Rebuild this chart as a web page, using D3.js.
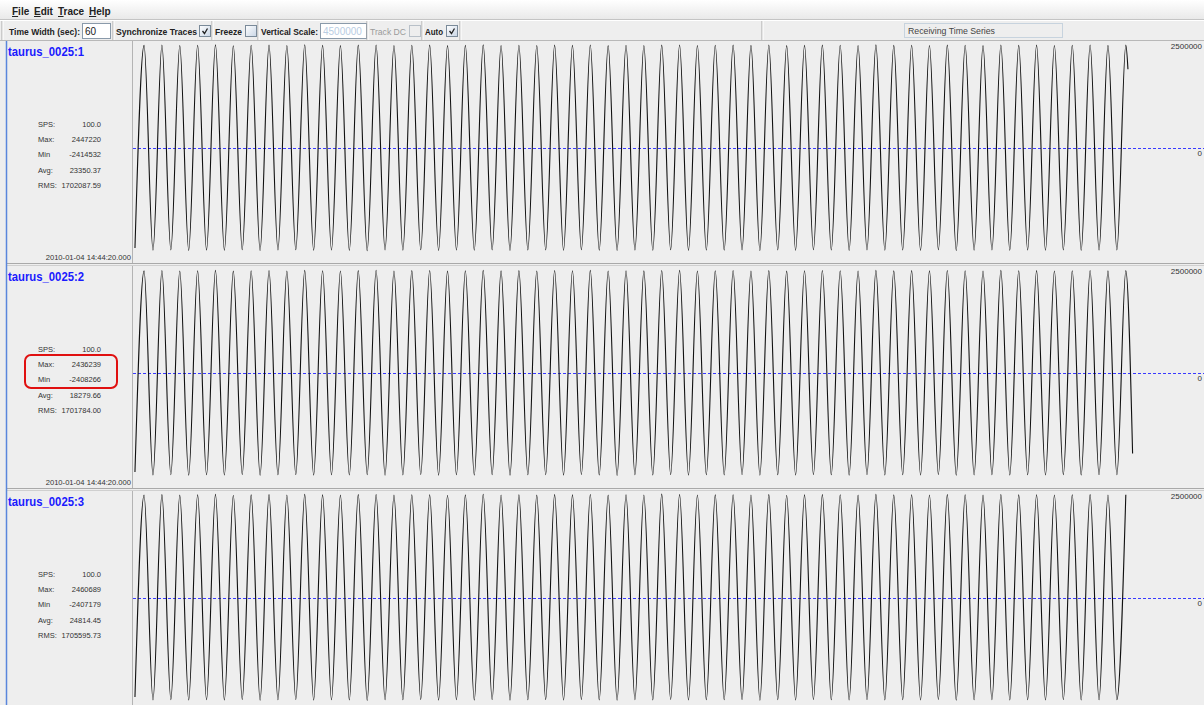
<!DOCTYPE html>
<html>
<head>
<meta charset="utf-8">
<script src="https://cdn.jsdelivr.net/npm/d3@7/dist/d3.min.js"></script>
<style>
  html, body { margin:0; padding:0; background:#eeeeee; overflow:hidden; }
  svg { display:block; font-family:"Liberation Sans", Arial, sans-serif; }
</style>
</head>
<body>
<svg id="c" width="1204" height="705"></svg>
<script>
// ---------------- DATA ----------------
const menuItems = ["File", "Edit", "Trace", "Help"];
const traceNames = ["taurus_0025:1", "taurus_0025:2", "taurus_0025:3"];
const spsVals = ["100.0", "100.0", "100.0"];
const maxVals = ["2447220", "2436239", "2460689"];
const minVals = ["-2414532", "-2408266", "-2407179"];
const avgVals = ["23350.37", "18279.66", "24814.45"];
const rmsVals = ["1702087.59", "1701784.00", "1705595.73"];
const startStamp = "2010-01-04 14:44:20.000";
const axisTopLabel = "2500000";
const axisZeroLabel = "0";
const timeWidthSec = 60;          // "Time Width (sec)"
const amplitudeDomain = [-2500, 2500]; // thousands of counts
const statusText = "Receiving Time Series";

// Waveform extrema (thousands of counts), 1 Hz signal
const peaks1 = [2431,2440,2428,2436,2443,2425,2434,2439,2430,2447.22,
                2433,2427,2438,2441,2429,2435,2437,2426,2432,2444,
                2430,2436,2428,2439,2433,2441,2427,2435,2430,2438,
                2442,2429,2434,2437,2431,2440,2426,2433,2439,2435,
                2428,2443,2432,2436,2430,2438,2434,2427,2441,2433,
                2437,2429,2435,2440,2431,2438];
const troughs1 = [-2402,-2396,-2408,-2399,-2405,-2391,-2410,-2400,-2394,-2406,
                  -2398,-2403,-2414.532,-2397,-2401,-2393,-2407,-2399,-2404,-2395,
                  -2409,-2400,-2396,-2405,-2392,-2402,-2408,-2398,-2403,-2394,
                  -2406,-2399,-2401,-2395,-2411,-2397,-2404,-2393,-2400,-2407,
                  -2396,-2403,-2398,-2405,-2392,-2409,-2401,-2397,-2404,-2399,
                  -2402,-2395,-2406,-2400,-2398];
const peaks2 = [2421,2429,2417,2425,2432,2414,2423,2428,2419,2433,
                2424,2416,2427,2436.239,2418,2426,2430,2415,2422,2431,
                2420,2427,2417,2429,2424,2432,2416,2425,2421,2428,
                2433,2419,2423,2430,2418,2426,2414,2422,2429,2425,
                2417,2431,2421,2427,2420,2428,2424,2416,2432,2423,
                2426,2418,2425,2430,2420,2427];
const troughs2 = [-2396,-2390,-2401,-2393,-2399,-2386,-2404,-2394,-2388,-2400,
                  -2392,-2397,-2389,-2403,-2395,-2387,-2401,-2393,-2398,-2390,
                  -2402,-2394,-2390,-2399,-2386,-2396,-2408.266,-2392,-2397,-2388,
                  -2400,-2393,-2395,-2389,-2404,-2391,-2398,-2387,-2394,-2401,
                  -2390,-2397,-2392,-2399,-2386,-2403,-2395,-2391,-2398,-2393,
                  -2396,-2389,-2400,-2394,-2392];
const peaks3 = [2442,2451,2438,2447,2455,2436,2445,2450,2440,2456,
                2444,2437,2449,2453,2439,2446,2448,2435,2443,2457,
                2441,2448,2438,2450,2445,2454,2437,2446,2442,2460.689,
                2452,2440,2445,2448,2442,2451,2436,2444,2450,2447,
                2439,2455,2443,2448,2441,2449,2446,2437,2453,2444,
                2448,2440,2446,2451,2442,2449];
const troughs3 = [-2395,-2389,-2400,-2392,-2398,-2385,-2403,-2393,-2387,-2399,
                  -2391,-2396,-2407.179,-2390,-2394,-2386,-2400,-2392,-2397,-2388,
                  -2401,-2393,-2389,-2398,-2385,-2395,-2402,-2391,-2396,-2387,
                  -2399,-2392,-2394,-2388,-2404,-2390,-2397,-2386,-2393,-2400,
                  -2389,-2396,-2391,-2398,-2385,-2402,-2394,-2390,-2397,-2392,
                  -2395,-2388,-2399,-2393,-2391];
const traceStart = [[0.11, -2350], [0.11, -2330], [0.11, -2330]]; // [sec, value]
const traceEnd = [[55.74, 1870], [56.0, -1890], null];
const firstPeakSec = 0.62;

// ---------------- DRAW ----------------
const svg = d3.select("#c");
const W = 1204, H = 705;

const defs = svg.append("defs");
const mg = defs.append("linearGradient").attr("id","menuG").attr("x1",0).attr("y1",0).attr("x2",0).attr("y2",1);
mg.append("stop").attr("offset","0%").attr("stop-color","#ffffff");
mg.append("stop").attr("offset","100%").attr("stop-color","#e9e9e9");
const cg = defs.append("linearGradient").attr("id","chkG").attr("x1",0).attr("y1",0).attr("x2",1).attr("y2",1);
cg.append("stop").attr("offset","0%").attr("stop-color","#ffffff");
cg.append("stop").attr("offset","100%").attr("stop-color","#c9d6e6");

svg.append("rect").attr("x",0).attr("y",0).attr("width",W).attr("height",H).attr("fill","#eeeeee");
svg.append("rect").attr("x",0).attr("y",0).attr("width",W).attr("height",19).attr("fill","url(#menuG)");

// menu bar with underlined mnemonics
const menuX = [12, 34, 58, 89];
menuItems.forEach((m, i) => {
  const t = svg.append("text").attr("x", menuX[i]).attr("y", 15)
    .attr("font-size", 10).attr("font-weight","bold").attr("fill","#222");
  t.append("tspan").attr("text-decoration","underline").text(m[0]);
  t.append("tspan").text(m.slice(1));
});

// toolbar
svg.append("line").attr("x1",0).attr("x2",W).attr("y1",19.5).attr("y2",19.5).attr("stroke","#c4c4c4");
svg.append("line").attr("x1",0).attr("x2",W).attr("y1",20.5).attr("y2",20.5).attr("stroke","#ffffff");
svg.append("line").attr("x1",0).attr("x2",W).attr("y1",40.5).attr("y2",40.5).attr("stroke","#b8b8b8");

function sep(x){
  svg.append("line").attr("x1",x).attr("x2",x).attr("y1",21).attr("y2",40).attr("stroke","#a8a8a8");
  svg.append("line").attr("x1",x+1).attr("x2",x+1).attr("y1",21).attr("y2",40).attr("stroke","#ffffff");
}
function label(x, txt, w, opts={}){
  svg.append("text").attr("x",x).attr("y",34.5).attr("font-size",opts.size||8.7)
    .attr("font-weight", opts.bold===false ? "normal" : "bold")
    .attr("fill", opts.color || "#222")
    .attr("textLength", w).attr("lengthAdjust","spacingAndGlyphs").text(txt);
}
function checkbox(x, checked, disabled){
  svg.append("rect").attr("x",x+0.5).attr("y",25.5).attr("width",11).attr("height",11)
    .attr("fill", disabled ? "#eeeeee" : "url(#chkG)").attr("stroke", disabled ? "#b8c0c8" : "#7a8a99");
  if (checked) {
    svg.append("path").attr("d",`M${x+3.5},${31} L${x+5.5},${33.5} L${x+8.5},${28.5}`)
      .attr("fill","none").attr("stroke","#222").attr("stroke-width",1.3);
  }
}
function inputBox(x, w, txt, color){
  svg.append("rect").attr("x",x+0.5).attr("y",23.5).attr("width",w).attr("height",15)
    .attr("fill","#ffffff").attr("stroke","#8a9aaa");
  svg.append("text").attr("x",x+3).attr("y",35).attr("font-size",10).attr("fill",color).text(txt);
}
sep(2);
label(9, "Time Width (sec):", 71);
inputBox(82, 28, String(timeWidthSec), "#222");
sep(113);
label(116, "Synchronize Traces", 81);
checkbox(199, true, false);
sep(212);
label(215, "Freeze", 27);
checkbox(245, false, false);
sep(258);
label(261, "Vertical Scale:", 57);
inputBox(320, 46, "4500000", "#b9cde3");
sep(367);
label(370, "Track DC", 36, {bold:false, color:"#9a9a9a", size:8.6});
checkbox(409, false, true);
sep(422);
label(425, "Auto", 18);
checkbox(446, true, false);
sep(460);
sep(762);
svg.append("rect").attr("x",904.5).attr("y",23.5).attr("width",158).attr("height",14)
  .attr("fill","#eeeeee").attr("stroke","#c7d3de");
svg.append("text").attr("x",908).attr("y",34).attr("font-size",9).attr("fill","#444")
  .attr("textLength",87).attr("lengthAdjust","spacingAndGlyphs").text(statusText);

// panels
const allPeaks = [peaks1, peaks2, peaks3];
const allTroughs = [troughs1, troughs2, troughs3];
const panelH = 225;
const x = d3.scaleLinear().domain([0, timeWidthSec]).range([133, 1204]);

traceNames.forEach((name, i) => {
  const off = i * panelH;
  const top = 41 + off, bottom = 263 + off;
  const y = d3.scaleLinear().domain(amplitudeDomain).range([254.3 + off, 42.5 + off]);
  const g = svg.append("g");

  // separators
  g.append("line").attr("x1",132.5).attr("x2",132.5).attr("y1",top).attr("y2",bottom)
    .attr("stroke","#b4b4b4");
  g.append("line").attr("x1",6).attr("x2",W).attr("y1",bottom+0.5).attr("y2",bottom+0.5).attr("stroke","#a9a9a9");
  g.append("line").attr("x1",6).attr("x2",W).attr("y1",bottom+2.5).attr("y2",bottom+2.5).attr("stroke","#cfcfcf");

  // name
  g.append("text").attr("x",8).attr("y",56+off).attr("font-size",12.5).attr("font-weight","bold")
    .attr("fill","#1a1aff").attr("textLength",76).attr("lengthAdjust","spacingAndGlyphs").text(name);

  // stats
  const rows = [["SPS:", spsVals[i]], ["Max:", maxVals[i]], ["Min", minVals[i]], ["Avg:", avgVals[i]], ["RMS:", rmsVals[i]]];
  rows.forEach((r, k) => {
    const yy = 127 + off + k * 15.2;
    g.append("text").attr("x",38).attr("y",yy).attr("font-size",7.5).attr("fill","#333").text(r[0]);
    g.append("text").attr("x",101).attr("y",yy).attr("font-size",7.5).attr("fill","#333")
      .attr("text-anchor","end").text(r[1]);
  });
  g.append("text").attr("x",131).attr("y",260+off).attr("font-size",7.6).attr("fill","#333")
    .attr("text-anchor","end").text(startStamp);

  // axis labels
  g.append("text").attr("x",1202).attr("y",y(2500)+6.5).attr("font-size",8).attr("fill","#333")
    .attr("text-anchor","end").text(axisTopLabel);
  g.append("text").attr("x",1202).attr("y",y(0)+7.5).attr("font-size",8).attr("fill","#333")
    .attr("text-anchor","end").text(axisZeroLabel);

  // zero line
  g.append("line").attr("x1",x(0)).attr("x2",W).attr("y1",Math.round(y(0))+0.5).attr("y2",Math.round(y(0))+0.5)
    .attr("stroke","#3a3aff").attr("stroke-width",1).attr("stroke-dasharray","3,2");

  // waveform points
  const pts = [{t: traceStart[i][0], v: traceStart[i][1]}];
  const pk = allPeaks[i], tr = allTroughs[i];
  for (let k = 0; k < pk.length; k++) {
    pts.push({t: firstPeakSec + k, v: pk[k]});
    if (k < tr.length) pts.push({t: firstPeakSec + k + 0.5, v: tr[k]});
  }
  if (traceEnd[i]) pts.push({t: traceEnd[i][0], v: traceEnd[i][1]});

  const line = d3.line().x(d => x(d.t)).y(d => y(d.v)).curve(d3.curveMonotoneX);
  g.append("path").attr("d", line(pts)).attr("fill","none").attr("stroke","#111").attr("stroke-width",1.1);
});

// left blue border
svg.append("line").attr("x1",6.5).attr("x2",6.5).attr("y1",41).attr("y2",H).attr("stroke","#5a86dc").attr("stroke-width",1.5);

// highlight box around Max/Min in panel 2
svg.append("rect").attr("x",25).attr("y",355).attr("width",92).attr("height",33).attr("rx",6)
  .attr("fill","none").attr("stroke","#e01010").attr("stroke-width",2);
</script>
</body>
</html>
